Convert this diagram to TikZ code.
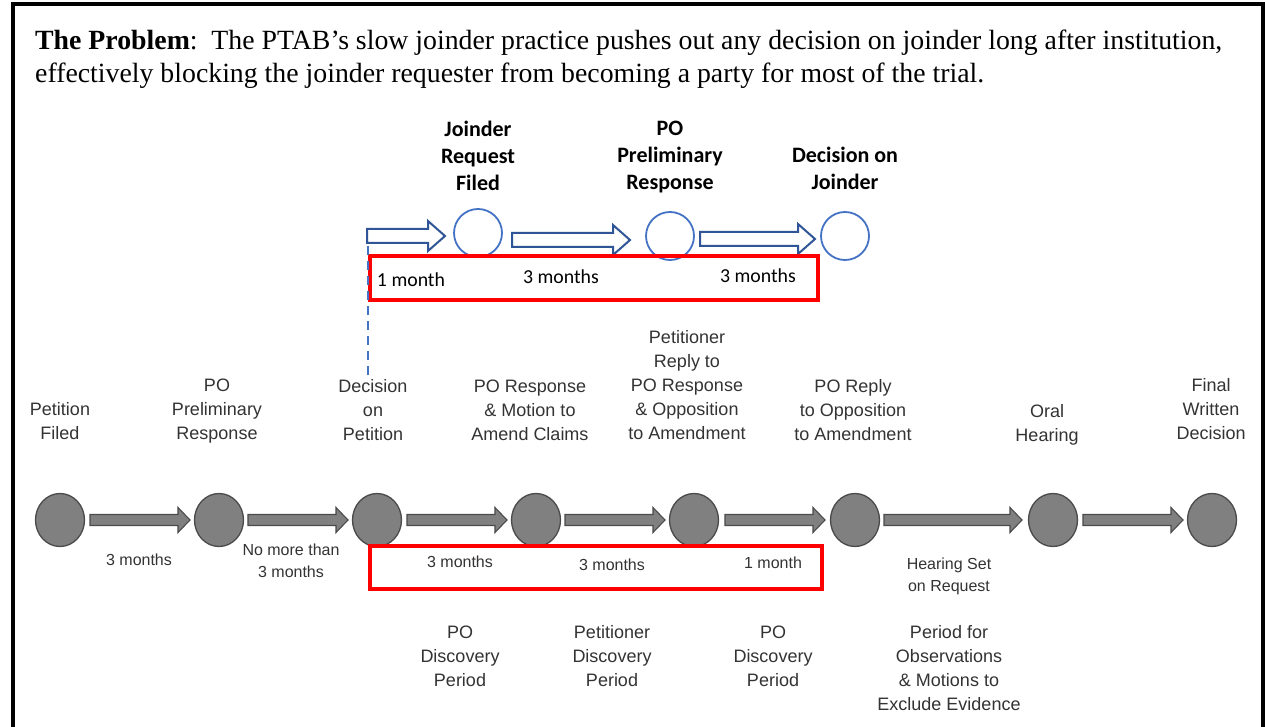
\documentclass[tikz,border=0pt]{standalone}
\usepackage{fontspec}
\setmainfont{Liberation Serif}
\newfontfamily\arialf{Liberation Sans}
\newfontfamily\calf{Carlito}
\usetikzlibrary{shapes.geometric}
\definecolor{txtgray}{HTML}{333333}
\definecolor{dkblue}{HTML}{2F5597}
\definecolor{ltblue}{HTML}{4472C4}
\definecolor{gfill}{HTML}{808080}
\definecolor{gline}{HTML}{4A4A4A}
\definecolor{boxred}{HTML}{FF0000}
% block arrow: style, x1, x2, y, half shaft, half head, head length
\newcommand{\blockarr}[7]{%
  \draw[#1] (#2,#4-#5) -- (#3-#7,#4-#5) -- (#3-#7,#4-#6) -- (#3,#4) -- (#3-#7,#4+#6) -- (#3-#7,#4+#5) -- (#2,#4+#5) -- cycle;}
\begin{document}
\begin{tikzpicture}[x=1pt,y=-1pt,
  lbl/.style={font=\arialf\fontsize{18}{24}\selectfont, text=txtgray, align=center, inner sep=0, anchor=base},
  dur/.style={font=\arialf\fontsize{16}{21.5}\selectfont, text=txtgray, align=center, inner sep=0, anchor=base},
  jlbl/.style={font=\calf\bfseries\fontsize{22}{27}\selectfont, align=center, inner sep=0, anchor=base},
  jdur/.style={font=\calf\fontsize{19.8}{22}\selectfont, inner sep=0, anchor=base},
  gev/.style={ellipse, draw=gline, fill=gfill, line width=1.3pt, minimum width=49, minimum height=53, inner sep=0},
  bev/.style={circle, draw=ltblue, line width=1.8pt, minimum size=48, inner sep=0},
  garr/.style={draw=gline, fill=gfill, line width=1.1pt},
  barr/.style={draw=dkblue, fill=white, line width=2pt},
  redbox/.style={draw=boxred, line width=4pt},
  hdr/.style={font=\fontsize{27.8}{33}\selectfont, inner sep=0, anchor=base west}]
\useasboundingbox (0,0) rectangle (1265,727);
\fill[white] (0,0) rectangle (1265,727);
% frame
\draw[line width=4pt] (13,730) -- (13,4) -- (1263,4) -- (1263,730);
% header
\node[hdr] (h1) at (35,50) {\textbf{The Problem}:\ \ The PTAB’s slow joinder practice pushes out any decision on joinder long after institution,};
\node[hdr] (h2) at (35,83) {effectively blocking the joinder requester from becoming a party for most of the trial.};

% ---- joinder row ----
\node[bev] (j1) at (478,233) {};
\node[bev] (j2) at (670,236) {};
\node[bev] (j3) at (845,236) {};
\blockarr{barr}{367}{445}{236}{7}{15}{17}
\blockarr{barr}{512}{630}{240}{7}{15}{17}
\blockarr{barr}{700}{815}{239}{7}{15}{17}
\node[jlbl] (jl1) at (478,191) {Joinder\\Request\\Filed};
\node[jlbl] (jl2) at (670,190) {PO\\Preliminary\\Response};
\node[jlbl] (jl3) at (845,190) {Decision on\\Joinder};
\draw[redbox] (370,256) rectangle (818,300);
\node[jdur] (jd1) at (411,286) {1 month};
\node[jdur] (jd2) at (561,283) {3 months};
\node[jdur] (jd3) at (758,282) {3 months};

% ---- main row ----
\node[gev] (e1) at (60,520) {};
\node[gev] (e2) at (219,520) {};
\node[gev] (e3) at (377,520) {};
\node[gev] (e4) at (536,520) {};
\node[gev] (e5) at (694,520) {};
\node[gev] (e6) at (855,520) {};
\node[gev] (e7) at (1053,520) {};
\node[gev] (e8) at (1212,520) {};
\blockarr{garr}{90}{190}{520}{5.5}{12.5}{12}
\blockarr{garr}{248}{348}{520}{5.5}{12.5}{12}
\blockarr{garr}{407}{507}{520}{5.5}{12.5}{12}
\blockarr{garr}{565}{665}{520}{5.5}{12.5}{12}
\blockarr{garr}{725}{825}{520}{5.5}{12.5}{12}
\blockarr{garr}{884}{1022}{520}{5.5}{12.5}{12}
\blockarr{garr}{1083}{1183}{520}{5.5}{12.5}{12}

% dashed link
\coordinate (dtop) at (368,243);
\draw[ltblue, line width=2.2pt, dash pattern=on 9pt off 6pt] (368,375) -- (dtop);

\node[lbl] (l1) at (60,439) {Petition\\Filed};
\node[lbl] (l2) at (217,439) {PO\\Preliminary\\Response};
\node[lbl] (l3) at (373,440) {Decision\\on\\Petition};
\node[lbl] (l4) at (530,440) {PO Response\\\& Motion to\\Amend Claims};
\node[lbl] (l5) at (687,439) {Petitioner\\Reply to\\PO Response\\\& Opposition\\to Amendment};
\node[lbl] (l6) at (853,440) {PO Reply\\to Opposition\\to Amendment};
\node[lbl] (l7) at (1047,441) {Oral\\Hearing};
\node[lbl] (l8) at (1211,439) {Final\\Written\\Decision};

\node[dur] (d1) at (139,565) {3 months};
\node[dur] (d2) at (291,577) {No more than\\3 months};
\draw[redbox] (370,546) rectangle (822,589);
\node[dur] (d3) at (460,567) {3 months};
\node[dur] (d4) at (612,570) {3 months};
\node[dur] (d5) at (773,568) {1 month};
\node[dur] (d6) at (949,591) {Hearing Set\\on Request};

\node[lbl] (p1) at (460,686) {PO\\Discovery\\Period};
\node[lbl] (p2) at (612,686) {Petitioner\\Discovery\\Period};
\node[lbl] (p3) at (773,686) {PO\\Discovery\\Period};
\node[lbl] (p4) at (949,710) {Period for\\Observations\\\& Motions to\\Exclude Evidence};
\end{tikzpicture}
\end{document}
